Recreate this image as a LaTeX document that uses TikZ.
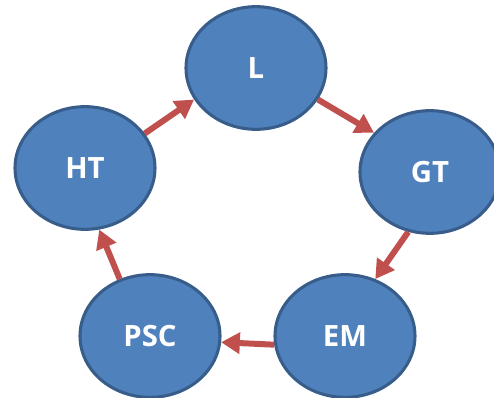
\documentclass[tikz,border=0pt]{standalone}
\usepackage{fontspec}
\setmainfont{Open Sans}
\usetikzlibrary{shapes.geometric,arrows.meta}

\begin{document}
\begin{tikzpicture}[x=0.75pt,y=0.75pt,yscale=-1,xscale=1,
  blob/.style={ellipse, draw={rgb, 255:red, 56; green, 93; blue, 138}, line width=2.3pt,
    fill={rgb, 255:red, 79; green, 129; blue, 189}, minimum width=105pt, minimum height=92pt,
    inner sep=0pt, text=white, font=\fontsize{22}{26}\bfseries\selectfont},
  flow/.style={draw={rgb, 255:red, 192; green, 80; blue, 77}, line width=4.5pt,
    -{Triangle[length=14pt,width=15.5pt]}}]
\useasboundingbox (0,0) rectangle (494,398);

%Shape: Ellipse [id:L] 
\draw (256,68) node [blob] (L) {L};
%Shape: Ellipse [id:GT] 
\draw (430,172) node [blob] (GT) {GT};
%Shape: Ellipse [id:EM] 
\draw (345,336) node [blob] (EM) {EM};
%Shape: Ellipse [id:PSC] 
\draw (150,336) node [blob] (PSC) {PSC};
%Shape: Ellipse [id:HT] 
\draw (85,168) node [blob] (HT) {HT};

%Straight Lines [id:arrows] 
\draw [flow] (L.-27) -- (GT.145) ;
\draw [flow] (GT.250) -- (EM.62) ;
\draw [flow] (EM.187) -- (PSC.355) ;
\draw [flow] (PSC.118) -- (HT.283) ;
\draw [flow] (HT.30) -- (L.207) ;

\end{tikzpicture}
\end{document}
